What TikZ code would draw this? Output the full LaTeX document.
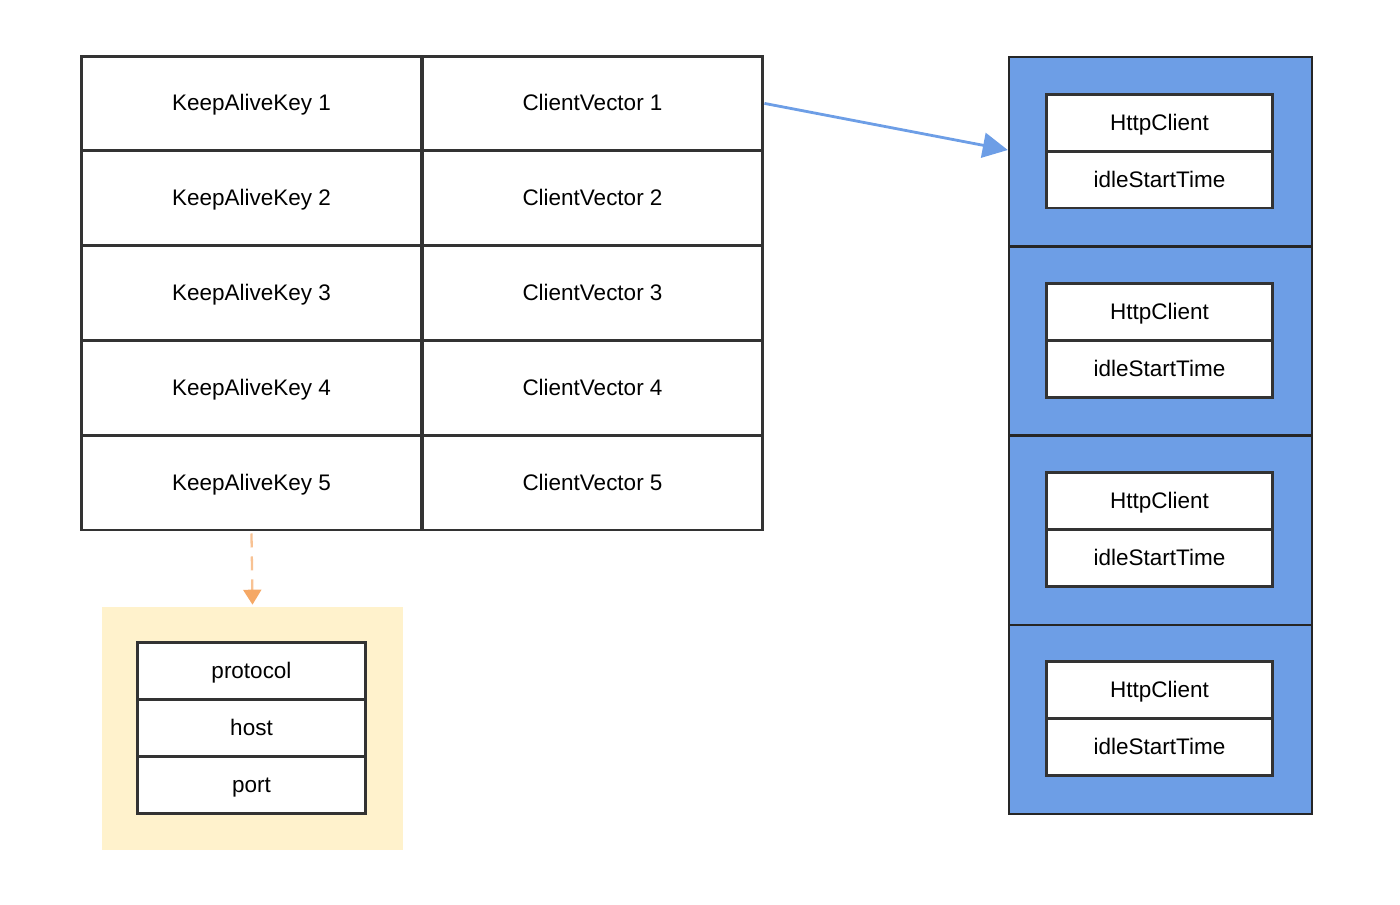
\documentclass[tikz,border=0pt]{standalone}
\usepackage{fontspec}
\setmainfont{Liberation Sans}
\usepackage{xcolor}
\usetikzlibrary{arrows.meta,positioning}

\definecolor{edgegray}{HTML}{333333}
\definecolor{poolblue}{HTML}{6D9EE6}
\definecolor{keyyellow}{HTML}{FFF2CC}
\definecolor{keyorange}{HTML}{F5A865}

\tikzset{
    cell/.style={draw=edgegray, line width=1.7pt, fill=white, minimum width=6.82cm, minimum height=1.896cm, inner sep=0pt, text height=0.86em, text depth=0em},
    slot/.style={draw=black!85, line width=1.4pt, fill=poolblue, minimum width=6.06cm, minimum height=3.785cm, inner sep=0pt},
    field/.style={draw=edgegray, line width=1.7pt, fill=white, minimum width=4.54cm, minimum height=1.14cm, inner sep=0pt, text height=0.86em, text depth=0em},
    keyfield/.style={field, minimum width=4.58cm}
}

\begin{document}
\begin{tikzpicture}[x=0.02cm, y=-0.02cm, font=\fontsize{12.8}{15}\selectfont]
\useasboundingbox (0,0) rectangle (1400,904);

% map table
\foreach \i in {1,...,5} {
    \node[cell] (k\i) at (251.5, 56+94.8*\i-47.4) {KeepAliveKey \i};
    \node[cell] (v\i) at (592.5, 56+94.8*\i-47.4) {ClientVector \i};
}

% client vector
\foreach \i in {1,...,4} {
    \node[slot] (s\i) at (1160.5, 57+189.25*\i-94.6) {};
    \node[field] (h\i) at (1159.5, 57+189.25*\i-189.25+65.5) {HttpClient};
    \node[field] (t\i) at (1159.5, 57+189.25*\i-189.25+122.5) {idleStartTime};
}

% key fields
\node[fill=keyyellow, minimum width=6.02cm, minimum height=4.86cm, inner sep=0pt] (kbox) at (252.5,728.5) {};
\node[keyfield] (proto) at (251.5,670.5) {protocol};
\node[keyfield] (host) at (251.5,727.5) {host};
\node[keyfield] (port) at (251.5,784.5) {port};

\draw[poolblue, line width=1.6pt, -{Triangle[length=0.5cm, width=0.5cm]}] (v1.east) -- (s1.west |- 0,150);
\draw[keyorange!70, line width=1.3pt, dash pattern=on 0.28cm off 0.18cm,
      -{Triangle[length=0.3cm, width=0.36cm, fill=keyorange, color=keyorange]}] ([yshift=-0.04cm]k5.south) -- ([yshift=0.04cm]kbox.north);
\end{tikzpicture}
\end{document}
